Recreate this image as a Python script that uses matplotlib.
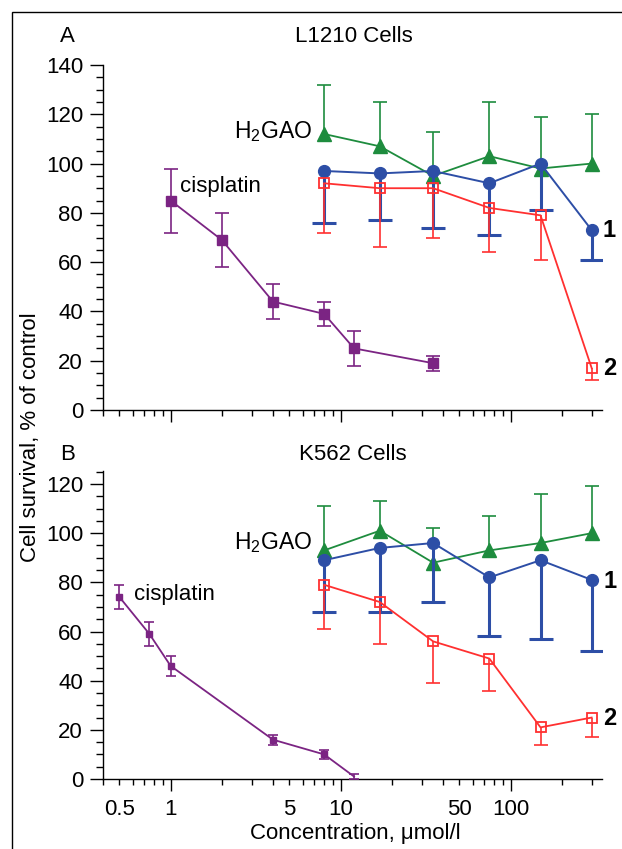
import matplotlib
matplotlib.use("Agg")
import matplotlib.pyplot as plt
import matplotlib.ticker as ticker
from matplotlib.patches import Rectangle
import numpy as np

plt.rcParams["font.family"] = ["Liberation Sans", "DejaVu Sans"]
plt.rcParams["mathtext.fontset"] = "custom"
plt.rcParams["mathtext.rm"] = "Liberation Sans"

# ── Data ──────────────────────────────────────────────────────────────────────
conc_h2gao = [8, 17, 35, 75, 150, 300]

# Panel A, L1210
a_cis_x = [1, 2, 4, 8, 12, 35]
a_cis_y = [85, 69, 44, 39, 25, 19]
a_cis_err = [13, 11, 7, 5, 7, 3]
a_h2gao_y = [112, 107, 95, 103, 98, 100]
a_h2gao_up = [20, 18, 18, 22, 21, 20]
a_c1_y = [97, 96, 97, 92, 100, 73]
a_c1_lo = [21, 19, 23, 21, 19, 12]
a_c2_y = [92, 90, 90, 82, 79, 17]
a_c2_lo = [20, 24, 20, 18, 18, 5]

# Panel B, K562
b_cis_x = [0.5, 0.75, 1, 4, 8, 12]
b_cis_y = [74, 59, 46, 16, 10, 1]
b_cis_err = [5, 5, 4, 2, 2, 1]
b_h2gao_y = [93, 101, 88, 93, 96, 100]
b_h2gao_up = [18, 12, 14, 14, 20, 19]
b_c1_y = [89, 94, 96, 82, 89, 81]
b_c1_lo = [21, 26, 24, 24, 32, 29]
b_c2_y = [79, 72, 56, 49, 21, 25]
b_c2_lo = [18, 17, 17, 13, 7, 8]

xtick_major = [1, 10, 100]
xtick_labelled = {0.5: "0.5", 1: "1", 5: "5", 10: "10", 50: "50", 100: "100"}

# ── Palette ───────────────────────────────────────────────────────────────────
PURPLE = "#7b2483"
GREEN = "#1e8c3e"
BLUE = "#2d4ea6"
RED = "#ff3030"

W, H = 622, 849
FS = 16      # label font size
TFS = 16     # tick label font size


def px(x, y):
    """pixel (from top-left) -> figure fraction"""
    return x / W, 1 - y / H


def bars(ax, x, y, lo, hi, color, lw, capsize, z):
    lo = np.asarray(lo, float)
    hi = np.asarray(hi, float)
    _, caps, _ = ax.errorbar(x, y, yerr=[lo, hi], fmt="none", ecolor=color,
                             elinewidth=lw, capsize=capsize, capthick=lw,
                             zorder=z)
    if not lo.any():
        caps[0].set_visible(False)
    if not hi.any():
        caps[1].set_visible(False)


def style_axes(ax, ymax, labels):
    ax.set_xscale("log")
    ax.set_xlim(0.4, 345)
    ax.set_ylim(0, ymax)
    for s in ("top", "right"):
        ax.spines[s].set_visible(False)
    for s in ("left", "bottom"):
        ax.spines[s].set_linewidth(1.0)
    ax.yaxis.set_major_locator(ticker.MultipleLocator(20))
    ax.yaxis.set_minor_locator(ticker.MultipleLocator(5))
    ax.xaxis.set_major_locator(ticker.FixedLocator(xtick_major))
    ax.xaxis.set_minor_locator(ticker.LogLocator(base=10, subs=np.arange(2, 10) / 1.0))
    ax.tick_params(axis="y", which="major", length=9.4, width=1.0, pad=5, labelsize=TFS)
    ax.tick_params(axis="y", which="minor", length=5, width=1.0)
    ax.tick_params(axis="x", which="major", length=8.6, width=1.0, pad=6, labelsize=TFS)
    ax.tick_params(axis="x", which="minor", length=4.3, width=1.0, pad=10.3, labelsize=TFS)

    def fmt(v, _):
        for k, t in xtick_labelled.items():
            if abs(v - k) < 1e-6 * k:
                return t
        return ""

    if labels:
        ax.xaxis.set_major_formatter(ticker.FuncFormatter(fmt))
        ax.xaxis.set_minor_formatter(ticker.FuncFormatter(fmt))
    else:
        ax.xaxis.set_major_formatter(ticker.NullFormatter())
        ax.xaxis.set_minor_formatter(ticker.NullFormatter())


def panel(ax, cis_x, cis_y, cis_err, cis_ms, cis_cap, cis_markevery,
          h_y, h_up, c1_y, c1_lo, c2_y, c2_lo):
    x = conc_h2gao
    zero = [0] * len(x)
    # H2GAO (green, upper bars)
    bars(ax, x, h_y, zero, h_up, GREEN, 1.2, 4.7, 2)
    ax.plot(x, h_y, color=GREEN, lw=1.3, marker="^", ms=10, zorder=3)
    # curve 1 (blue, thick lower bars)
    bars(ax, x, c1_y, c1_lo, zero, BLUE, 2.2, 8.6, 4)
    ax.plot(x, c1_y, color=BLUE, lw=1.4, marker="o", ms=8.5, zorder=5)
    # curve 2 (red, open squares, lower bars)
    bars(ax, x, c2_y, c2_lo, zero, RED, 1.2, 4.7, 6)
    ax.plot(x, c2_y, color=RED, lw=1.3, marker="s", ms=6.5, mfc="none",
            mec=RED, mew=1.3, zorder=7)
    # cisplatin (purple)
    bars(ax, cis_x, cis_y, cis_err, cis_err, PURPLE, 1.2, cis_cap, 8)
    ax.plot(cis_x, cis_y, color=PURPLE, lw=1.3, marker="s", ms=cis_ms,
            markevery=cis_markevery, zorder=9)


fig = plt.figure(figsize=(W / 100, H / 100), dpi=100)

# outer frame
x0, y0 = px(12, 12)
fig.patches.append(Rectangle((x0, -0.1), 1.2, y0 + 0.1, transform=fig.transFigure,
                             fill=False, lw=1.0, ec="black"))

# Panel A
l, b = px(103, 410)
axA = fig.add_axes([l, b, (602 - 103) / W, 345 / H])
panel(axA, a_cis_x, a_cis_y, a_cis_err, 6.5, 4.7, None,
      a_h2gao_y, a_h2gao_up, a_c1_y, a_c1_lo, a_c2_y, a_c2_lo)
style_axes(axA, 140, labels=False)
axA.text(1.13, 90.5, "cisplatin", fontsize=FS, va="center", ha="left")
axA.text(6.8, 113, r"H$_\mathrm{2}$GAO", fontsize=FS + 0.5, va="center", ha="right")
axA.text(348, 73, "1", fontsize=17, fontweight="bold", va="center", ha="left", clip_on=False)
axA.text(348, 17, "2", fontsize=17, fontweight="bold", va="center", ha="left", clip_on=False)

# Panel B
l, b = px(103, 779)
axB = fig.add_axes([l, b, (602 - 103) / W, 308 / H])
panel(axB, b_cis_x, b_cis_y, b_cis_err, 4.2, 3.6, [0, 1, 2, 3, 4],
      b_h2gao_y, b_h2gao_up, b_c1_y, b_c1_lo, b_c2_y, b_c2_lo)
style_axes(axB, 125.3, labels=True)
axB.text(0.605, 75, "cisplatin", fontsize=FS, va="center", ha="left")
axB.text(6.8, 96, r"H$_\mathrm{2}$GAO", fontsize=FS + 0.5, va="center", ha="right")
axB.text(350, 80.5, "1", fontsize=17, fontweight="bold", va="center", ha="left", clip_on=False)
axB.text(350, 24.8, "2", fontsize=17, fontweight="bold", va="center", ha="left", clip_on=False)

# titles and labels
fig.text(*px(67, 36), "A", fontsize=FS, ha="center", va="center")
fig.text(*px(354, 36), "L1210 Cells", fontsize=FS, ha="center", va="center")
fig.text(*px(68, 454), "B", fontsize=FS, ha="center", va="center")
fig.text(*px(353, 454), "K562 Cells", fontsize=FS, ha="center", va="center")
fig.text(*px(31, 437), "Cell survival, % of control", fontsize=FS, rotation=90,
         ha="center", va="center")
fig.text(*px(355, 834), "Concentration, μmol/l", fontsize=FS, ha="center", va="center")

fig.savefig("out.png", dpi=100)
